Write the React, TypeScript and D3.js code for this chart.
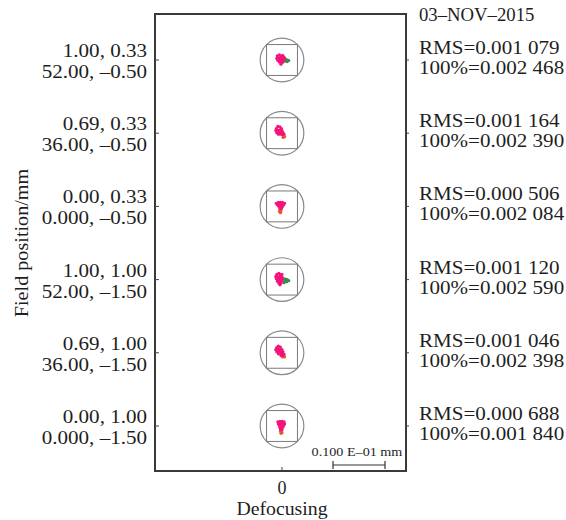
import React, { useEffect, useRef } from "react";
import * as d3 from "d3";

// field labels (normalised, then angle in degrees)
const normX = ["1.00", "0.69", "0.00", "1.00", "0.69", "0.00"];
const normY = ["0.33", "0.33", "0.33", "1.00", "1.00", "1.00"];
const angX = ["52.00", "36.00", "0.000", "52.00", "36.00", "0.000"];
const angY = ["–0.50", "–0.50", "–0.50", "–1.50", "–1.50", "–1.50"];
const rms = [0.001079, 0.001164, 0.000506, 0.00112, 0.001046, 0.000688];
const geo = [0.002468, 0.00239, 0.002084, 0.00259, 0.002398, 0.00184];
const defocus = [0];
const plotDate = "03–NOV–2015";
const scaleLabel = "0.100 E–01 mm";
const scaleBarUm = 10;
const airyUm = 4.2;

// spot points in micrometres: [x, y (up), wavelength]
const spot1 = [
  [0.5, 0.2, 1], [0.8, 0.1, 1], [1.1, 0.0, 1], [1.3, -0.1, 1], [0.7, -0.2, 1], [1.0, -0.3, 1], [0.6, 0.0, 1],
  [-0.9, 0.8, 0], [-0.5, 1.0, 0], [-0.2, 0.7, 0], [0.1, 0.9, 0], [0.3, 0.6, 0], [-1.0, 0.3, 0], [-0.6, 0.4, 0],
  [-0.2, 0.3, 0], [0.2, 0.2, 0], [0.5, 0.4, 0], [-0.8, -0.1, 0], [-0.4, 0.0, 0], [0.0, -0.1, 0], [0.3, -0.1, 0],
  [-0.5, -0.4, 0], [-0.1, -0.5, 0], [0.2, -0.4, 0], [-0.2, -0.8, 0],
];
const spot2 = [
  [0.3, -0.5, 2], [0.5, -0.7, 2], [0.2, -0.8, 2],
  [-1.1, 0.9, 0], [-0.8, 1.3, 0], [-0.4, 1.2, 0], [-0.1, 0.9, 0], [-1.2, 0.5, 0], [-0.8, 0.6, 0], [-0.4, 0.6, 0],
  [0.0, 0.5, 0], [-1.0, 0.1, 0], [-0.6, 0.2, 0], [-0.2, 0.1, 0], [0.2, 0.1, 0], [-0.7, -0.2, 0], [-0.3, -0.2, 0],
  [0.1, -0.3, 0], [0.4, -0.2, 0],
];
const spot3 = [
  [-0.4, -0.8, 2], [-0.2, -0.9, 2], [-0.3, -1.2, 2], [-0.5, -1.0, 2],
  [-1.1, 0.6, 0], [-0.7, 0.8, 0], [-0.3, 0.8, 0], [0.1, 0.8, 0], [0.5, 0.6, 0], [-0.9, 0.3, 0], [-0.5, 0.4, 0],
  [-0.1, 0.4, 0], [0.3, 0.3, 0], [-0.6, 0.0, 0], [-0.2, 0.0, 0], [0.1, 0.0, 0], [-0.4, -0.4, 0], [-0.1, -0.4, 0],
];
const spot4 = [
  [0.3, 0.2, 1], [0.7, 0.1, 1], [1.0, 0.0, 1], [1.3, -0.2, 1], [0.5, -0.3, 1], [0.9, -0.4, 1], [0.4, -0.6, 1],
  [-1.0, 1.0, 0], [-0.6, 1.2, 0], [-0.3, 0.9, 0], [0.0, 1.0, 0], [-1.2, 0.6, 0], [-0.8, 0.6, 0], [-0.4, 0.5, 0],
  [0.0, 0.5, 0], [-1.1, 0.2, 0], [-0.7, 0.2, 0], [-0.3, 0.1, 0], [0.1, 0.1, 0], [-0.9, -0.3, 0], [-0.5, -0.3, 0],
  [-0.1, -0.3, 0], [-0.6, -0.7, 0], [-0.2, -0.7, 0], [-0.4, -1.0, 0],
];
const spot5 = [
  [0.3, -0.6, 2], [0.5, -0.8, 2], [0.1, -0.8, 2],
  [-1.0, 1.0, 0], [-0.7, 1.3, 0], [-0.3, 1.1, 0], [-1.2, 0.6, 0], [-0.8, 0.7, 0], [-0.4, 0.7, 0], [0.0, 0.6, 0],
  [-1.0, 0.2, 0], [-0.6, 0.3, 0], [-0.2, 0.2, 0], [0.2, 0.2, 0], [-0.7, -0.2, 0], [-0.3, -0.1, 0], [0.1, -0.2, 0],
  [0.4, -0.3, 0], [-0.2, -0.5, 0], [0.2, -0.5, 0],
];
const spot6 = [
  [-0.3, -1.0, 2], [-0.1, -1.1, 2], [-0.2, -1.4, 2], [0.0, -1.3, 2],
  [-0.8, 0.8, 0], [-0.4, 0.9, 0], [0.0, 0.9, 0], [0.4, 0.8, 0], [-0.7, 0.4, 0], [-0.3, 0.5, 0], [0.1, 0.5, 0],
  [0.5, 0.4, 0], [-0.5, 0.1, 0], [-0.1, 0.1, 0], [0.3, 0.1, 0], [-0.4, -0.3, 0], [0.0, -0.3, 0], [0.2, -0.2, 0],
  [-0.3, -0.6, 0], [0.0, -0.7, 0],
];
const spots = [spot1, spot2, spot3, spot4, spot5, spot6];
const waveColors = ["#f5127a", "#3e8c4c", "#e4582a"];

const fmt = (v: number) => {
  const s = v.toFixed(6);
  return s.slice(0, 5) + " " + s.slice(5);
};

export default function App() {
  const ref = useRef<SVGSVGElement>(null);

  useEffect(() => {
    const W = 566, H = 520;
    const frame = { left: 155, right: 406, top: 14, bottom: 471 };
    const font = "'Liberation Serif', 'Times New Roman', serif";
    const ink = "#1e1e1e";

    const svg = d3.select(ref.current).attr("width", W).attr("height", H);
    svg.selectAll("*").remove();

    const x = d3.scalePoint<number>().domain(defocus).range([frame.left, frame.right + 3]).padding(0.5);
    const y = d3.scalePoint<number>().domain(d3.range(spots.length)).range([60, 426]);
    const um = d3.scaleLinear().domain([0, scaleBarUm]).range([0, 52]);

    // frame
    svg.append("rect")
      .attr("x", frame.left).attr("y", frame.top)
      .attr("width", frame.right - frame.left).attr("height", frame.bottom - frame.top)
      .attr("fill", "none").attr("stroke", "#3a3a3a").attr("stroke-width", 2);

    // ticks
    const rows = d3.range(spots.length);
    svg.selectAll(".ltick").data(rows).join("line")
      .attr("x1", frame.left).attr("x2", frame.left + 4)
      .attr("y1", (d) => y(d)!).attr("y2", (d) => y(d)!)
      .attr("stroke", "#444").attr("stroke-width", 1);
    svg.selectAll(".rtick").data(rows).join("line")
      .attr("x1", frame.right).attr("x2", frame.right + 3)
      .attr("y1", (d) => y(d)!).attr("y2", (d) => y(d)!)
      .attr("stroke", "#444").attr("stroke-width", 1);
    svg.selectAll(".btick").data(defocus).join("line")
      .attr("x1", (d) => x(d)!).attr("x2", (d) => x(d)!)
      .attr("y1", frame.bottom).attr("y2", frame.bottom - 4)
      .attr("stroke", "#444").attr("stroke-width", 1);

    // one cell per field
    const cx = x(0)!;
    const cells = svg.selectAll(".cell").data(spots).join("g")
      .attr("transform", (_, i) => `translate(${cx},${y(i)})`);
    const r = um(airyUm);
    cells.append("circle").attr("r", r).attr("fill", "none").attr("stroke", "#8a8a8a").attr("stroke-width", 1.2);
    const half = r / Math.SQRT2;
    cells.append("rect")
      .attr("x", -half).attr("y", -half).attr("width", 2 * half).attr("height", 2 * half)
      .attr("fill", "none").attr("stroke", "#7a7a7a").attr("stroke-width", 1);
    // other wavelengths under the primary one
    cells.selectAll(".pt")
      .data((d) => d.filter((p) => p[2] !== 0).concat(d.filter((p) => p[2] === 0)))
      .join("circle")
      .attr("cx", (d) => um(d[0])).attr("cy", (d) => -um(d[1]))
      .attr("r", 1.6).attr("fill", (d) => waveColors[d[2]]);

    const stretchedText = (tx: number, ty: number, txt: string, anchor: string, size = 18, sx = 1.17) => {
      svg.append("g").attr("transform", `translate(${tx},${ty}) scale(${sx},1)`)
        .append("text").attr("text-anchor", anchor)
        .style("font-family", font).style("font-size", `${size}px`).attr("fill", ink)
        .text(txt);
    };

    rows.forEach((i) => {
      const yc = y(i)!;
      stretchedText(147, yc - 3, `${normX[i]}, ${normY[i]}`, "end");
      stretchedText(147, yc + 18, `${angX[i]}, ${angY[i]}`, "end");
      stretchedText(419, yc - 6, `RMS=${fmt(rms[i])}`, "start");
      stretchedText(419, yc + 14, `100%=${fmt(geo[i])}`, "start");
    });

    stretchedText(419, 21, plotDate, "start", 18, 1.04);

    // scale bar
    stretchedText(357, 456, scaleLabel, "middle", 12, 1.18);
    const barX0 = 333, barY = 465;
    svg.append("line").attr("x1", barX0).attr("x2", barX0 + um(scaleBarUm))
      .attr("y1", barY).attr("y2", barY).attr("stroke", "#333").attr("stroke-width", 1.2);
    [barX0, barX0 + um(scaleBarUm)].forEach((bx) => {
      svg.append("line").attr("x1", bx).attr("x2", bx).attr("y1", barY - 4).attr("y2", barY + 4)
        .attr("stroke", "#333").attr("stroke-width", 1.2);
    });

    // axis labels
    svg.selectAll(".xt").data(defocus).join("text")
      .attr("x", (d) => x(d)!).attr("y", 494).attr("text-anchor", "middle")
      .style("font-family", font).style("font-size", "18px").attr("fill", ink).text((d) => String(d));
    stretchedText(cx, 515, "Defocusing", "middle", 18, 1.1);
    svg.append("g").attr("transform", "translate(28,243) rotate(-90) scale(1.12,1)")
      .append("text").attr("text-anchor", "middle")
      .style("font-family", font).style("font-size", "18px").attr("fill", ink)
      .text("Field position/mm");
  }, []);

  return (
    <svg ref={ref} style={{ position: "absolute", left: 0, top: 0, background: "#fff" }} />
  );
}
